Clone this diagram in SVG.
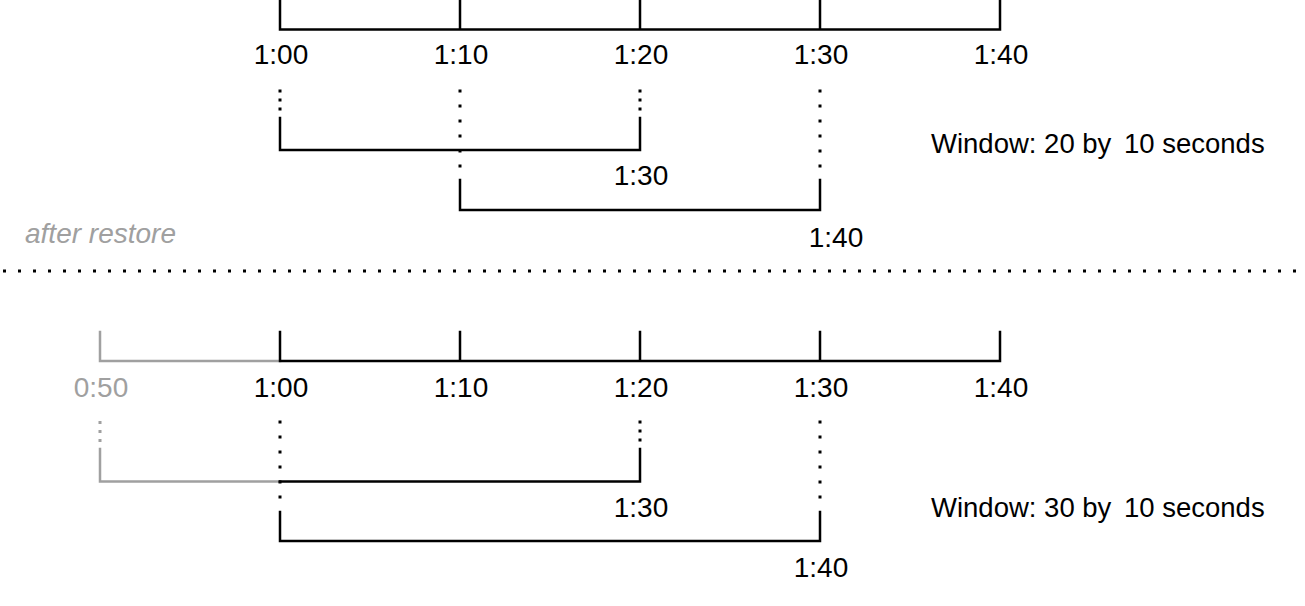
<svg xmlns="http://www.w3.org/2000/svg" width="1305" height="606" viewBox="0 0 1305 606">
<style>
  .ln { stroke: #000; stroke-width: 2.5; fill: none; stroke-linejoin: miter; stroke-linecap: square; }
  .gl { stroke: #a0a0a0; stroke-width: 2.5; fill: none; stroke-linecap: square; }
  .dl { stroke: #000; stroke-width: 3; stroke-dasharray: 3 12; fill: none; }
  .ds { stroke: #000; stroke-width: 3; stroke-dasharray: 3 6; fill: none; }
  .gds { stroke: #a0a0a0; stroke-width: 3; stroke-dasharray: 3 6; fill: none; }
  .lbl { font-family: "Liberation Sans", Arial, sans-serif; font-size: 28px; fill: #000; text-anchor: middle; }
  .glbl { font-family: "Liberation Sans", Arial, sans-serif; font-size: 28px; fill: #a0a0a0; text-anchor: middle; }
  .cap { font-family: "Liberation Sans", Arial, sans-serif; font-size: 27.5px; fill: #000; }
  .note { font-family: "Liberation Sans", Arial, sans-serif; font-size: 28px; font-style: italic; fill: #a0a0a0; }
</style>
<rect width="1305" height="606" fill="#fff"/>

<g id="top-timeline">
  <path class="ln" d="M280 0 V29.5 H1000 V0 M460 0 V29.5 M640 0 V29.5 M820 0 V29.5"/>
  <text class="lbl" x="281" y="64">1:00</text>
  <text class="lbl" x="461" y="64">1:10</text>
  <text class="lbl" x="641" y="64">1:20</text>
  <text class="lbl" x="821" y="64">1:30</text>
  <text class="lbl" x="1001" y="64">1:40</text>
</g>

<g id="top-window-1">
  <path class="ds" d="M280 89.5 V111"/>
  <path class="ds" d="M640 89.5 V111"/>
  <path class="ln" d="M280 118 V150 H640 V118"/>
  <text class="lbl" x="641" y="185">1:30</text>
</g>

<g id="top-window-2">
  <path class="dl" d="M460 89.5 V168"/>
  <path class="dl" d="M820 89.5 V168"/>
  <path class="ln" d="M460 180 V210 H820 V180"/>
  <text class="lbl" x="836" y="247">1:40</text>
</g>

<g id="top-caption">
  <text class="cap" x="931" y="153">Window: 20 by<tspan x="1124">10 seconds</tspan></text>
</g>

<g id="separator">
  <text class="note" x="25" y="243">after restore</text>
  <line x1="3" y1="271" x2="1305" y2="271" stroke="#000" stroke-width="3" stroke-dasharray="3 12"/>
</g>

<g id="bottom-timeline">
  <path class="gl" d="M100 332 V361 H280"/>
  <path class="ln" d="M280 332 V361 H1000 V332 M460 332 V361 M640 332 V361 M820 332 V361"/>
  <text class="glbl" x="101" y="397">0:50</text>
  <text class="lbl" x="281" y="397">1:00</text>
  <text class="lbl" x="461" y="397">1:10</text>
  <text class="lbl" x="641" y="397">1:20</text>
  <text class="lbl" x="821" y="397">1:30</text>
  <text class="lbl" x="1001" y="397">1:40</text>
</g>

<g id="bottom-window-1">
  <path class="gds" d="M100 421 V442.5"/>
  <path class="ds" d="M640 420.5 V442"/>
  <path class="gl" d="M100 449 V481.5 H280"/>
  <path class="ln" d="M280 481.5 H640 V449"/>
  <text class="lbl" x="641" y="517">1:30</text>
</g>

<g id="bottom-window-2">
  <path class="dl" d="M280 420.5 V499"/>
  <path class="dl" d="M820 420.5 V499"/>
  <path class="ln" d="M280 512 V541 H820 V512"/>
  <text class="lbl" x="821" y="577">1:40</text>
</g>

<g id="bottom-caption">
  <text class="cap" x="931" y="517">Window: 30 by<tspan x="1124">10 seconds</tspan></text>
</g>
</svg>
